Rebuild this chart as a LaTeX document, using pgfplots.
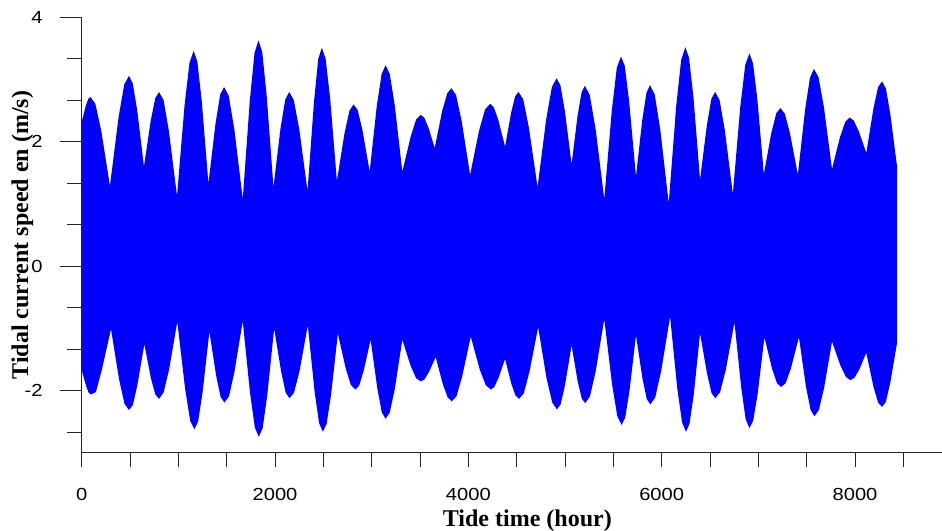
\documentclass[border=0pt]{standalone}
\usepackage{pgfplots}
\pgfplotsset{compat=1.18}
\usepgfplotslibrary{fillbetween}
\usepackage{fontspec}
\setmainfont{Liberation Sans}
\newfontfamily\lserif{Liberation Serif}
\begin{document}
\begin{tikzpicture}
\begin{axis}[
 scale only axis, width=860.2bp, height=435.6bp,
 xmin=0, xmax=8900, ymin=-3, ymax=4,
 axis lines=left, axis line style={-, black!85, line width=1bp},
 tick align=outside, tick style={black!85, line width=1bp},
 major tick length=21.7bp, minor tick length=14.5bp,
 xtick={0,2000,4000,6000,8000}, xticklabels={0,2000,4000,6000,8000},
 major x tick style={draw=none},
 minor xtick={0,500,...,8500},
 ytick={-2,0,2,4}, yticklabels={-2,0,2,4},
 minor ytick={-2.6667,-1.3333,-0.6667,0.6667,1.3333,2.6667,3.3333},
 xticklabel style={font=\fontsize{17.5bp}{20bp}\selectfont, xscale=1.15, inner sep=0pt, anchor=north, yshift=-13.6bp},
 yticklabel style={font=\fontsize{17.5bp}{20bp}\selectfont, xscale=1.15, inner sep=0pt, anchor=east, xshift=-15bp},
 xlabel={Tide time (hour)}, ylabel={Tidal current speed en (m/s)},
 xlabel style={font=\lserif\bfseries\fontsize{24bp}{28bp}\selectfont, inner sep=0pt, anchor=north, at={([yshift=-57bp]rel axis cs:0.518,0)}},
 ylabel style={font=\lserif\bfseries\fontsize{24bp}{28bp}\selectfont, inner sep=0pt, rotate=0, anchor=south, at={([xshift=-48.2bp]rel axis cs:0,0.5)}},
]
% upper envelope of the current speed
\addplot[name path=U, draw=none] coordinates {
(0,2.32) (41,2.57) (68,2.69) (91,2.72) (141,2.61) (202,2.18) (292,1.29)
(381,2.39) (440,2.92) (489,3.06) (528,2.94) (574,2.51) (644,1.60)
(714,2.34) (761,2.70) (800,2.80) (847,2.67) (902,2.17) (986,1.13)
(1063,2.57) (1115,3.27) (1158,3.46) (1196,3.29) (1242,2.65) (1311,1.33)
(1384,2.29) (1433,2.76) (1473,2.88) (1521,2.74) (1579,2.20) (1666,1.08)
(1739,2.66) (1788,3.43) (1829,3.63) (1868,3.44) (1914,2.73) (1984,1.27)
(2057,2.22) (2106,2.68) (2147,2.80) (2194,2.67) (2251,2.20) (2336,1.21)
(2403,2.64) (2447,3.33) (2484,3.51) (2523,3.34) (2570,2.70) (2640,1.37)
(2718,2.13) (2770,2.50) (2813,2.60) (2855,2.51) (2904,2.19) (2979,1.52)
(3053,2.58) (3103,3.09) (3144,3.23) (3187,3.09) (3239,2.58) (3317,1.52)
(3403,2.08) (3460,2.36) (3507,2.43) (3543,2.39) (3587,2.23) (3652,1.90)
(3730,2.50) (3782,2.78) (3825,2.86) (3873,2.75) (3931,2.33) (4018,1.47)
(4111,2.18) (4173,2.52) (4225,2.61) (4264,2.55) (4310,2.35) (4380,1.92)
(4443,2.47) (4484,2.73) (4519,2.80) (4568,2.68) (4627,2.22) (4716,1.27)
(4805,2.36) (4864,2.88) (4913,3.02) (4952,2.91) (4998,2.50) (5068,1.64)
(5130,2.42) (5172,2.80) (5206,2.90) (5256,2.75) (5316,2.21) (5406,1.08)
(5484,2.50) (5536,3.19) (5579,3.37) (5618,3.22) (5664,2.64) (5734,1.44)
(5799,2.35) (5843,2.79) (5879,2.91) (5928,2.76) (5986,2.19) (6073,1.01)
(6150,2.57) (6202,3.32) (6245,3.52) (6283,3.35) (6329,2.71) (6397,1.39)
(6467,2.26) (6514,2.69) (6553,2.80) (6599,2.67) (6654,2.18) (6736,1.16)
(6813,2.56) (6865,3.24) (6908,3.42) (6945,3.26) (6990,2.68) (7057,1.48)
(7134,2.14) (7186,2.46) (7229,2.54) (7274,2.45) (7328,2.13) (7409,1.47)
(7484,2.52) (7534,3.03) (7575,3.17) (7622,3.04) (7678,2.56) (7762,1.56)
(7844,2.07) (7899,2.32) (7944,2.39) (7987,2.34) (8039,2.17) (8117,1.82)
(8190,2.53) (8239,2.88) (8280,2.97) (8319,2.86) (8365,2.45) (8435,1.60)
};
% lower envelope
\addplot[name path=L, draw=none] coordinates {
(0,-1.67) (43,-1.91) (71,-2.03) (95,-2.06) (147,-2.02) (209,-1.66) (303,-1.01)
(387,-1.82) (443,-2.21) (489,-2.31) (529,-2.23) (576,-1.91) (648,-1.25)
(716,-1.80) (762,-2.06) (800,-2.13) (847,-2.03) (904,-1.66) (989,-0.89)
(1069,-1.96) (1122,-2.48) (1166,-2.62) (1205,-2.49) (1251,-2.02) (1321,-1.05)
(1391,-1.76) (1437,-2.10) (1476,-2.19) (1524,-2.09) (1581,-1.69) (1666,-0.88)
(1741,-2.03) (1791,-2.59) (1832,-2.74) (1872,-2.60) (1919,-2.08) (1991,-1.00)
(2063,-1.69) (2110,-2.03) (2150,-2.12) (2197,-2.03) (2254,-1.68) (2339,-0.95)
(2409,-2.01) (2456,-2.52) (2495,-2.66) (2534,-2.53) (2580,-2.06) (2650,-1.08)
(2731,-1.64) (2785,-1.91) (2830,-1.98) (2870,-1.92) (2917,-1.68) (2989,-1.18)
(3059,-1.97) (3105,-2.35) (3144,-2.45) (3187,-2.35) (3239,-1.97) (3317,-1.18)
(3403,-1.60) (3460,-1.80) (3507,-1.85) (3546,-1.82) (3592,-1.70) (3662,-1.46)
(3737,-1.90) (3787,-2.11) (3828,-2.17) (3877,-2.09) (3936,-1.77) (4025,-1.13)
(4118,-1.66) (4180,-1.91) (4232,-1.98) (4269,-1.94) (4313,-1.79) (4380,-1.49)
(4445,-1.89) (4489,-2.08) (4525,-2.13) (4574,-2.04) (4633,-1.69) (4722,-0.98)
(4809,-1.80) (4868,-2.19) (4916,-2.30) (4954,-2.22) (5000,-1.91) (5068,-1.27)
(5131,-1.85) (5174,-2.13) (5209,-2.20) (5258,-2.09) (5317,-1.69) (5406,-0.85)
(5487,-1.90) (5541,-2.41) (5586,-2.55) (5623,-2.43) (5667,-2.00) (5734,-1.11)
(5801,-1.80) (5845,-2.13) (5882,-2.22) (5933,-2.11) (5995,-1.68) (6087,-0.81)
(6161,-1.96) (6211,-2.51) (6252,-2.66) (6288,-2.53) (6332,-2.06) (6397,-1.08)
(6469,-1.72) (6516,-2.04) (6556,-2.12) (6605,-2.02) (6664,-1.66) (6753,-0.90)
(6823,-1.95) (6869,-2.46) (6908,-2.60) (6947,-2.48) (6993,-2.05) (7063,-1.14)
(7141,-1.64) (7193,-1.88) (7236,-1.94) (7282,-1.88) (7337,-1.64) (7420,-1.14)
(7492,-1.93) (7541,-2.31) (7581,-2.41) (7626,-2.31) (7681,-1.95) (7762,-1.21)
(7848,-1.59) (7906,-1.78) (7954,-1.83) (7995,-1.79) (8044,-1.66) (8117,-1.39)
(8190,-1.93) (8239,-2.19) (8280,-2.26) (8319,-2.18) (8365,-1.87) (8435,-1.23)
};
\addplot[fill=blue, draw=none] fill between[of=U and L];
\end{axis}
\pgfresetboundingbox
\path ([xshift=-81.7bp,yshift=-78bp]current axis.south west) rectangle ([yshift=17.3bp]current axis.north east);
\end{tikzpicture}
\end{document}
